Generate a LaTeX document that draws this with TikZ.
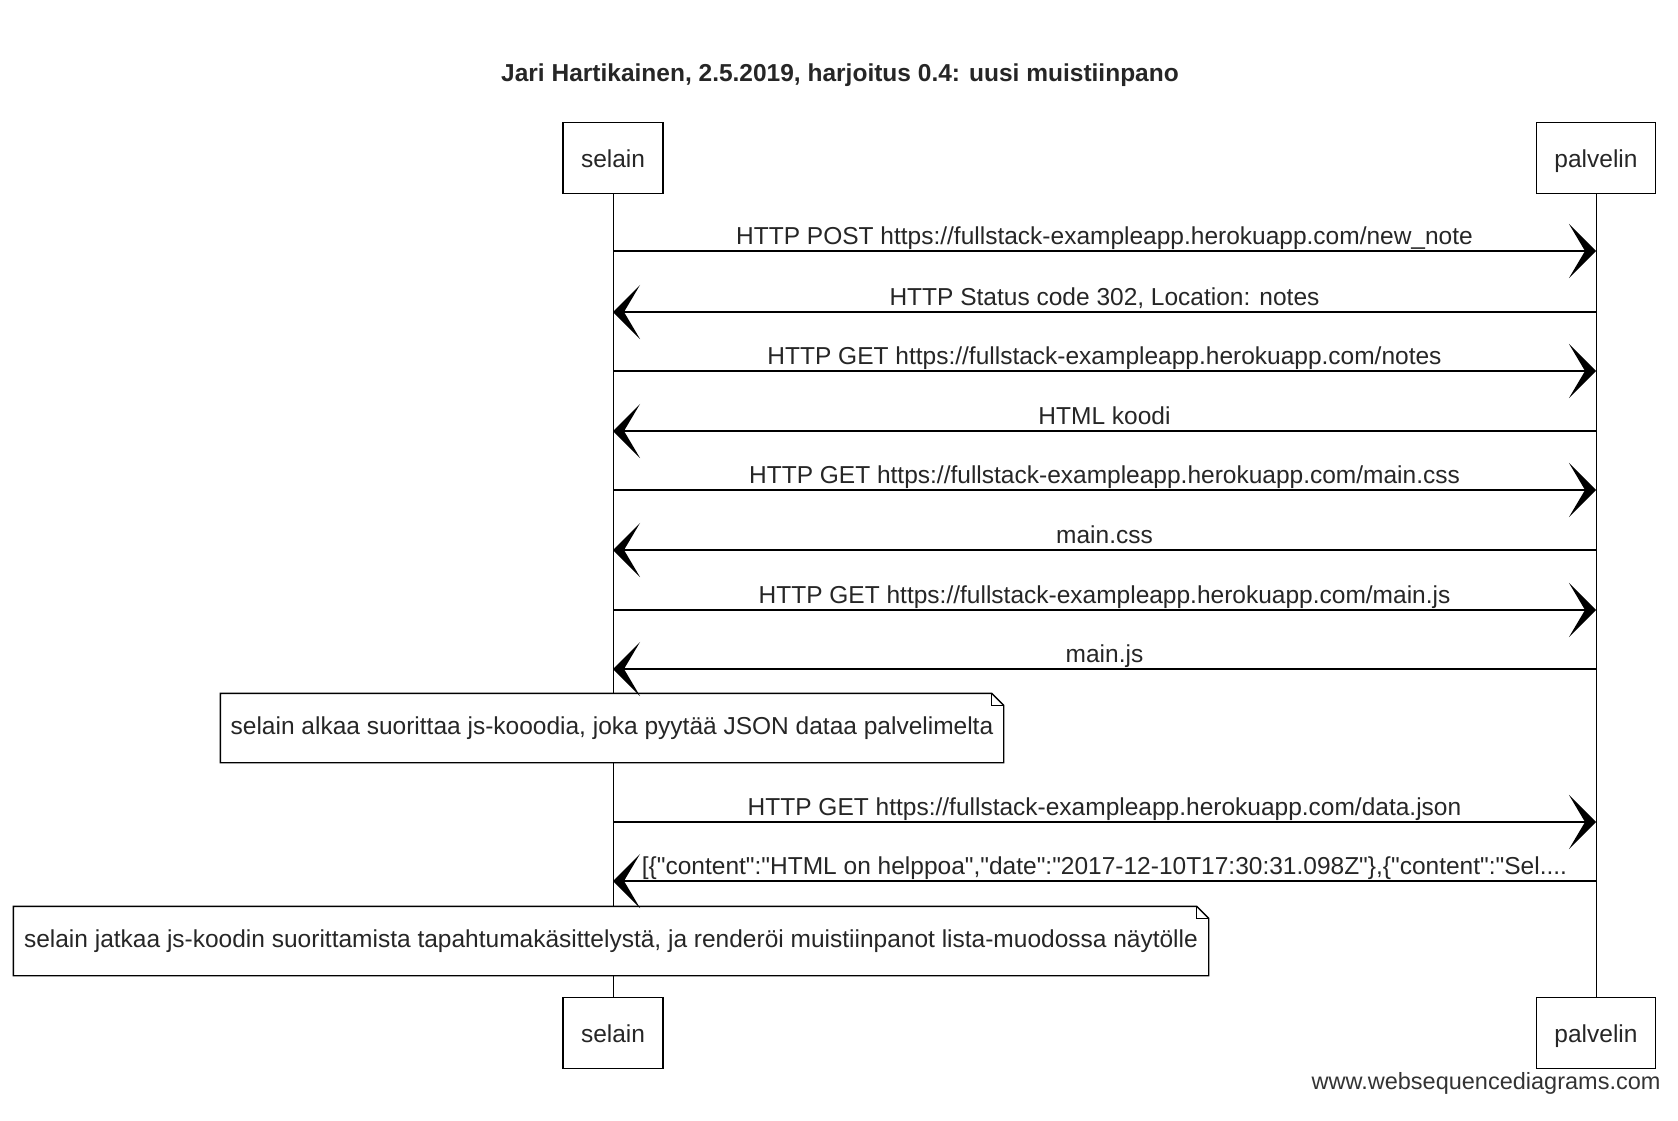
\documentclass[tikz,border=0pt]{standalone}
\usepackage{fontspec}
\setmainfont{Liberation Sans}
\newfontfamily\wsdfont{Liberation Sans}
\usetikzlibrary{arrows.meta}
\usetikzlibrary{backgrounds}
\newcommand{\lblsize}{\wsdfont\fontsize{24.5}{28}\selectfont}
\newcommand{\fold}{12pt}

\begin{document}
\begin{tikzpicture}[x=1pt,y=-1pt]
    \useasboundingbox (0,0) rectangle (1678,1120);
    \tikzset{
        actor/.style={draw,line width=1.4pt,minimum height=71pt,inner xsep=18pt,text height=20pt,text depth=2pt,font=\lblsize,text=black!85},
        lifeline/.style={line width=0.9pt},
        msg/.style={line width=1.7pt,-{Stealth[length=27pt,width=54pt,inset=16pt]}},
        lbl/.style={midway,above,inner sep=1pt,text height=17pt,text depth=5pt,font=\lblsize,text=black!85},
        notetext/.style={font=\lblsize,minimum height=69pt,text=black!85},
        noteline/.style={draw,line width=1.4pt,fill=white}
    }

    \node[font=\bfseries\lblsize,text=black!85] (title) at (840,75) {Jari Hartikainen, 2.5.2019, harjoitus 0.4: uusi muistiinpano};

    \node[actor] (selTop) at (613,158) {selain};
    \node[actor] (palTop) at (1596,158) {palvelin};
    \node[actor] (selBot) at (613,1033) {selain};
    \node[actor] (palBot) at (1596,1033) {palvelin};

    % rows of the messages
    \foreach \i/\y in {1/251,2/312,3/371,4/431,5/490,6/550,7/610,8/669,9/822,10/881}{
        \coordinate (s\i) at (613,\y);
        \coordinate (p\i) at (1596,\y);
    }

    \node[notetext,minimum width=783pt] (note1) at (612,728) {selain alkaa suorittaa js-kooodia, joka pyytää JSON dataa palvelimelta};
    \node[notetext,minimum width=1195pt] (note2) at (611,941) {selain jatkaa js-koodin suorittamista tapahtumakäsittelystä, ja renderöi muistiinpanot lista-muodossa näytölle};

    \begin{scope}[on background layer]
        \draw[lifeline] (selTop) -- (selBot);
        \draw[lifeline] (palTop) -- (palBot);

        \draw[noteline] (note1.south west) -- (note1.north west) -- ([xshift=-\fold]note1.north east)
            -- ([yshift=-\fold]note1.north east) -- (note1.south east) -- cycle;
        \draw[line width=0.8pt] ([xshift=-\fold]note1.north east) -- ([xshift=-\fold,yshift=-\fold]note1.north east)
            -- ([yshift=-\fold]note1.north east);
        \draw[noteline] (note2.south west) -- (note2.north west) -- ([xshift=-\fold]note2.north east)
            -- ([yshift=-\fold]note2.north east) -- (note2.south east) -- cycle;
        \draw[line width=0.8pt] ([xshift=-\fold]note2.north east) -- ([xshift=-\fold,yshift=-\fold]note2.north east)
            -- ([yshift=-\fold]note2.north east);
    \end{scope}

    \draw[msg] (s1) -- node[lbl] (m1) {HTTP POST https://fullstack-exampleapp.herokuapp.com/new\_note} (p1);
    \draw[msg] (p2) -- node[lbl] (m2) {HTTP Status code 302, Location: notes} (s2);
    \draw[msg] (s3) -- node[lbl] (m3) {HTTP GET https://fullstack-exampleapp.herokuapp.com/notes} (p3);
    \draw[msg] (p4) -- node[lbl] (m4) {HTML koodi} (s4);
    \draw[msg] (s5) -- node[lbl] (m5) {HTTP GET https://fullstack-exampleapp.herokuapp.com/main.css} (p5);
    \draw[msg] (p6) -- node[lbl] (m6) {main.css} (s6);
    \draw[msg] (s7) -- node[lbl] (m7) {HTTP GET https://fullstack-exampleapp.herokuapp.com/main.js} (p7);
    \draw[msg] (p8) -- node[lbl] (m8) {main.js} (s8);
    \draw[msg] (s9) -- node[lbl] (m9) {HTTP GET https://fullstack-exampleapp.herokuapp.com/data.json} (p9);
    \draw[msg] (p10) -- node[lbl] (m10) {[\{"content":"HTML on helppoa","date":"2017-12-10T17:30:31.098Z"\},\{"content":"Sel....} (s10);

    \node[anchor=east,font=\wsdfont\fontsize{23.5}{28}\selectfont,text=black!80] (wsd) at (1664,1083) {www.websequencediagrams.com};
\end{tikzpicture}
\end{document}
